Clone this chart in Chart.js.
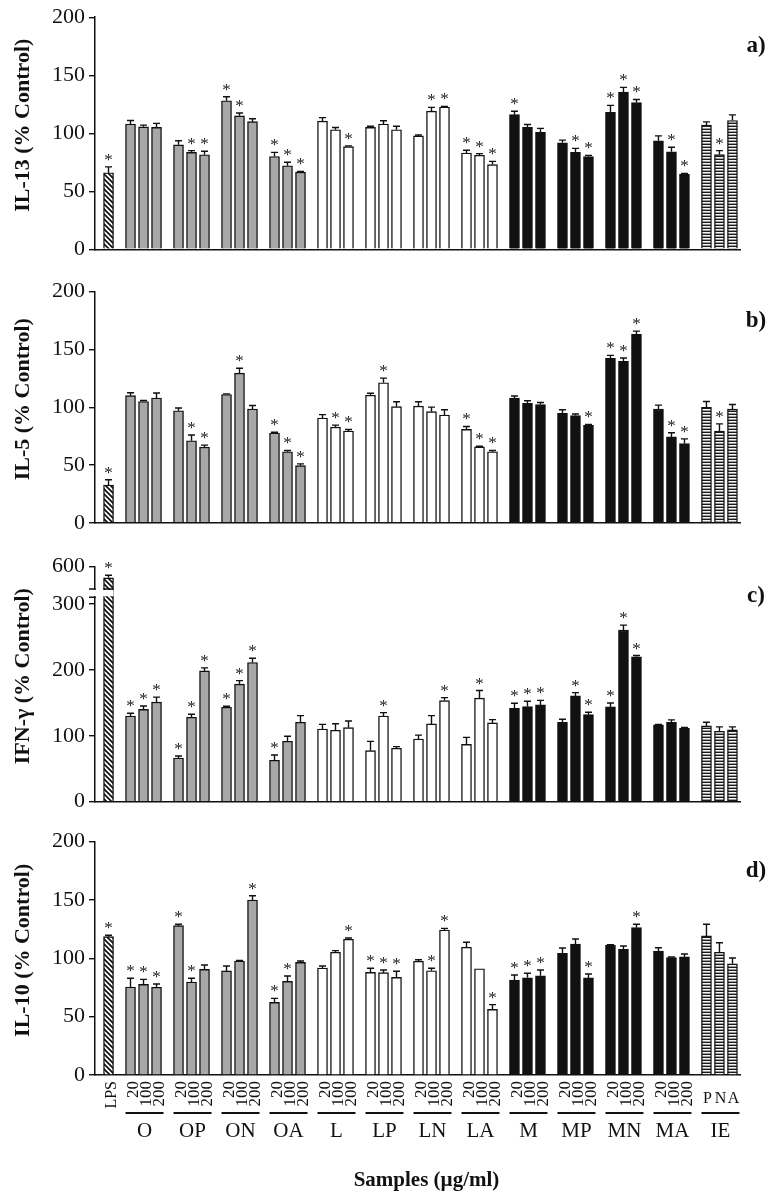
<!DOCTYPE html>
<html>
<head>
<meta charset="utf-8">
<script src="https://cdn.jsdelivr.net/npm/chart.js@4.4.1/dist/chart.umd.min.js"></script>
<style>
  html, body { margin: 0; padding: 0; background: #fff; }
  #wrap { position: relative; width: 781px; height: 1199px; overflow: hidden; }
  canvas { position: absolute; left: 0; }
</style>
</head>
<body>
<div id="wrap">
  <canvas id="il13" width="781" height="270" style="top:0px"></canvas>
  <canvas id="il5" width="781" height="270" style="top:270px"></canvas>
  <canvas id="ifng" width="781" height="275" style="top:545px"></canvas>
  <canvas id="il10" width="781" height="379" style="top:820px"></canvas>
</div>
<script>
const groups = ['O', 'OP', 'ON', 'OA', 'L', 'LP', 'LN', 'LA', 'M', 'MP', 'MN', 'MA', 'IE'];
const doses = ['20', '100', '200'];
const ieDoses = ['P', 'N', 'A'];
const ifnTicks = [0, 100, 200, 300, 600];

// order: LPS, then the three doses of each group (P / N / A for IE)
const il13 = [66, 108, 105.5, 105, 90, 83.5, 81.5, 128, 115, 110, 80, 72, 66.5,
  110.5, 103, 88.5, 105, 108, 103, 97.7, 119, 122.6, 83, 81, 73,
  116, 105, 100.8, 91.8, 83.5, 80, 118, 135.5, 126.5, 93.5, 84, 64.6, 107, 81.6, 111];
const il13Err = [5, 3, 1.5, 3.5, 3.5, 1.5, 3, 3.5, 2.5, 2.5, 3.5, 3, 0.6,
  3, 2, 0.6, 1, 2.8, 3, 0.8, 3.3, 0.6, 2.3, 1.4, 2.8,
  3, 2.5, 3.4, 2.3, 3.5, 0.9, 6, 4, 2.6, 4.2, 4, 0.8, 2.8, 3.4, 4.8];
const il13Sig = [1, 0, 0, 0, 0, 1, 1, 1, 1, 0, 1, 1, 1,
  0, 0, 1, 0, 0, 0, 0, 1, 1, 1, 1, 1,
  1, 0, 0, 0, 1, 1, 1, 1, 1, 0, 1, 1, 0, 1, 0];

const il5 = [32.7, 110, 105, 108, 97, 71, 65.5, 111, 129.5, 98.5, 77.7, 61.5, 49.5,
  90.7, 82.8, 79.4, 110.4, 121.2, 100.5, 101, 96.2, 93.3, 80.8, 65.7, 61.5,
  108, 103.3, 102.4, 94.8, 92.8, 84.3, 142.3, 139.7, 163, 98.4, 74.3, 68.6, 99.9, 79.4, 98.4];
const il5Err = [4.6, 2.5, 0.8, 4.3, 2.3, 5, 1.7, 0.6, 4.3, 3, 0.6, 1.1, 1.5,
  2.9, 1.7, 1.4, 1.7, 4, 4.2, 3.7, 3.9, 4.6, 2.6, 0.6, 1.1,
  1.8, 2.3, 1.7, 3.1, 1.4, 0.8, 2.6, 2.9, 2.9, 3.4, 3.6, 4, 5.1, 6.2, 4];
const il5Sig = [1, 0, 0, 0, 0, 1, 1, 0, 1, 0, 1, 1, 1,
  0, 1, 1, 0, 1, 0, 0, 0, 0, 1, 1, 1,
  0, 0, 0, 0, 0, 1, 1, 1, 1, 0, 1, 1, 0, 1, 0];

const ifng = [550, 130, 140, 151, 66.3, 128, 198.3, 143.2, 178.2, 211, 62.8, 91.7, 120.5,
  110.3, 108.3, 112.3, 77.4, 130, 81, 95, 118, 153.3, 87, 157, 119.4,
  141.7, 144.2, 146.7, 120.5, 160.4, 132, 143.7, 260.2, 219.6, 116.5, 120.5, 111.4, 114.9, 106.8, 108.8];
const ifngErr = [12, 4, 5, 7.6, 3, 4.6, 4.6, 1.6, 5.4, 6.6, 8, 7.5, 10,
  7, 10, 10, 14, 5, 2.5, 6, 12.5, 4.5, 10.6, 11.5, 5,
  7.5, 8, 7, 4.5, 5, 3.7, 6, 7.5, 2, 0.5, 3.5, 1, 5.6, 6.6, 4.6];
const ifngSig = [1, 1, 1, 1, 1, 1, 1, 1, 1, 1, 1, 0, 0,
  0, 0, 0, 0, 1, 0, 0, 0, 1, 0, 1, 0,
  1, 1, 1, 0, 1, 1, 1, 1, 1, 0, 0, 0, 0, 0, 0];

const il10 = [118.6, 75.4, 77.7, 75.2, 128, 79.7, 90.6, 89.2, 97.7, 150, 62.3, 80.3, 96.6,
  91.7, 105.2, 116.4, 88, 87.7, 83.7, 97.5, 89.4, 124.3, 109.5, 91.1, 56.3,
  81.4, 83.4, 85.1, 104.3, 112.3, 83.2, 111.4, 107.8, 126.3, 106.3, 100.6, 101.2, 119.2, 105.2, 95.4];
const il10Err = [1.2, 7.5, 4.3, 2.8, 1.2, 3.2, 3.7, 4.2, 0.5, 3.7, 3.4, 4.6, 1.1,
  1.7, 1.4, 1.1, 3.5, 2.3, 5.2, 1.3, 2.1, 1.4, 4.3, 0, 4,
  4.3, 3.8, 4.9, 4.6, 4.3, 3.4, 0.4, 2.8, 2.9, 2.8, 0.5, 2.5, 10, 8.2, 4.9];
const il10Sig = [1, 1, 1, 1, 1, 1, 0, 0, 0, 1, 1, 1, 0,
  0, 0, 1, 1, 1, 1, 0, 1, 1, 0, 0, 1,
  1, 1, 1, 0, 0, 1, 0, 0, 1, 0, 0, 0, 0, 0, 0];

// layout of the x axis, in units of one bar pitch
const LEAD = 22 / 13;
const GROUP_STEP = 48 / 13;
const X_MIN = -1.04;
const X_MAX = 48.58;
const xPos = [0];
groups.forEach((g, gi) => doses.forEach((d, di) => xPos.push(LEAD + gi * GROUP_STEP + di)));

const SERIF = '"Liberation Serif", "Times New Roman", serif';
const INK = '#111';

// y axis with a break between 310 and 500 (IFN-gamma panel)
const BREAK_LOW = 310, BREAK_HIGH = 500, BREAK_MAX = 600;
const LOW_SHARE = 0.87, HIGH_START = 0.905;

class BrokenLinearScale extends Chart.LinearScale {
  static id = 'brokenLinear';
  static defaults = Chart.LinearScale.defaults;
  buildTicks() {
    this.start = this.min;
    this.end = this.max;
    return ifnTicks.map(value => ({ value }));
  }
  toDecimal(v) {
    if (v <= BREAK_LOW) return v / BREAK_LOW * LOW_SHARE;
    if (v >= BREAK_HIGH) return HIGH_START + (v - BREAK_HIGH) / (BREAK_MAX - BREAK_HIGH) * (1 - HIGH_START);
    return LOW_SHARE + (v - BREAK_LOW) / (BREAK_HIGH - BREAK_LOW) * (HIGH_START - LOW_SHARE);
  }
  getPixelForValue(v) {
    return this.getPixelForDecimal(this.toDecimal(v));
  }
  getValueForPixel(p) {
    const d = this.getDecimalForPixel(p);
    if (d <= LOW_SHARE) return d / LOW_SHARE * BREAK_LOW;
    if (d >= HIGH_START) return BREAK_HIGH + (d - HIGH_START) / (1 - HIGH_START) * (BREAK_MAX - BREAK_HIGH);
    return BREAK_LOW + (d - LOW_SHARE) / (HIGH_START - LOW_SHARE) * (BREAK_HIGH - BREAK_LOW);
  }
}
Chart.register(BrokenLinearScale);

function pattern(w, h, paint) {
  const c = document.createElement('canvas');
  c.width = w;
  c.height = h;
  const g = c.getContext('2d');
  paint(g);
  return g.createPattern(c, 'repeat');
}

const hatch = pattern(5, 5, g => {
  g.fillStyle = '#fff';
  g.fillRect(0, 0, 5, 5);
  g.strokeStyle = '#111';
  g.lineWidth = 1.7;
  g.beginPath();
  [-5, 0, 5].forEach(o => { g.moveTo(o - 1, -1); g.lineTo(o + 6, 6); });
  g.stroke();
});

const stripes = pattern(2, 3, g => {
  g.fillStyle = '#1a1a1a'; g.fillRect(0, 0, 2, 1);
  g.fillStyle = '#f4f4f4'; g.fillRect(0, 1, 2, 1);
  g.fillStyle = '#9c9c9c'; g.fillRect(0, 2, 2, 1);
});

function barFill(i) {
  if (i === 0) return hatch;
  const g = Math.floor((i - 1) / 3);
  if (g < 4) return '#a8a8a8';
  if (g < 8) return '#ffffff';
  if (g < 12) return '#111111';
  return stripes;
}

function drawBreak(ctx, chartArea, y, lps) {
  const yHi = y.getPixelForValue(BREAK_HIGH);
  const yLo = y.getPixelForValue(BREAK_LOW);
  ctx.fillStyle = '#fff';
  ctx.fillRect(chartArea.left - 2, yHi + 1, lps.x + 7 - chartArea.left, yLo - yHi - 2);
  ctx.strokeStyle = INK;
  ctx.lineWidth = 1.4;
  ctx.beginPath();
  ctx.moveTo(chartArea.left - 6, yHi); ctx.lineTo(chartArea.left + 0.7, yHi);
  ctx.moveTo(chartArea.left - 6, yLo); ctx.lineTo(chartArea.left + 0.7, yLo);
  ctx.moveTo(lps.x - 5, yHi); ctx.lineTo(lps.x + 5, yHi);
  ctx.stroke();
}

function drawSampleLabels(ctx, chartArea, bars) {
  const base = chartArea.bottom;
  ctx.fillStyle = INK;
  ctx.strokeStyle = INK;
  const vertical = (text, x) => {
    ctx.save();
    ctx.translate(x + 3, base + 6);
    ctx.rotate(-Math.PI / 2);
    ctx.textAlign = 'right';
    ctx.textBaseline = 'middle';
    ctx.fillText(text, 0, 0);
    ctx.restore();
  };
  ctx.font = '16px ' + SERIF;
  vertical('LPS', bars[0].x);
  groups.forEach((g, gi) => {
    const b = [1, 2, 3].map(k => bars[1 + gi * 3 + k - 1]);
    if (g === 'IE') {
      ctx.font = '16px ' + SERIF;
      ctx.textAlign = 'center';
      ctx.textBaseline = 'alphabetic';
      ieDoses.forEach((d, di) => ctx.fillText(d, b[di].x + 1, base + 28));
    } else {
      ctx.font = '17px ' + SERIF;
      doses.forEach((d, di) => vertical(d, b[di].x));
    }
    ctx.lineWidth = 1.8;
    ctx.beginPath();
    ctx.moveTo(b[0].x - 5, base + 38);
    ctx.lineTo(b[2].x + 7, base + 38);
    ctx.stroke();
    ctx.font = '21px ' + SERIF;
    ctx.textAlign = 'center';
    ctx.textBaseline = 'alphabetic';
    ctx.fillText(g, b[1].x + 1, base + 62);
  });
  ctx.font = 'bold 21px ' + SERIF;
  ctx.textAlign = 'center';
  ctx.fillText('Samples (\u00b5g/ml)', (chartArea.left + chartArea.right) / 2 + 9, base + 111);
}

function decorations(panel) {
  return {
    id: 'decorations',
    afterDraw(chart) {
      const { ctx, chartArea, scales: { y } } = chart;
      const bars = chart.getDatasetMeta(0).data;
      ctx.save();
      if (panel.broken) drawBreak(ctx, chartArea, y, bars[0]);

      // error bars, upper half only
      ctx.strokeStyle = INK;
      ctx.lineWidth = 1.4;
      bars.forEach((bar, i) => {
        const err = panel.err[i];
        if (!err) return;
        const top = y.getPixelForValue(panel.values[i] + err);
        ctx.beginPath();
        ctx.moveTo(bar.x, bar.y);
        ctx.lineTo(bar.x, top);
        ctx.moveTo(bar.x - 3.5, top);
        ctx.lineTo(bar.x + 3.5, top);
        ctx.stroke();
      });

      // significance marks
      ctx.fillStyle = '#222';
      ctx.font = '17px ' + SERIF;
      ctx.textAlign = 'center';
      ctx.textBaseline = 'alphabetic';
      bars.forEach((bar, i) => {
        if (!panel.sig[i]) return;
        const top = y.getPixelForValue(panel.values[i] + panel.err[i]);
        ctx.fillText('*', bar.x, top - 2);
      });

      // axis title and panel letter
      ctx.fillStyle = INK;
      ctx.save();
      ctx.translate(23, (chartArea.top + chartArea.bottom) / 2 - 8);
      ctx.rotate(-Math.PI / 2);
      ctx.font = 'bold 22px ' + SERIF;
      ctx.textAlign = 'center';
      ctx.textBaseline = 'middle';
      ctx.fillText(panel.title, 0, 0);
      ctx.restore();
      ctx.font = 'bold 23px ' + SERIF;
      ctx.textAlign = 'center';
      ctx.textBaseline = 'middle';
      ctx.fillText(panel.letter, 756, chartArea.top + 29);

      if (panel.samples) drawSampleLabels(ctx, chartArea, bars);
      ctx.restore();
    },
  };
}

function makeChart(panel) {
  return new Chart(document.getElementById(panel.id), {
    type: 'bar',
    data: {
      datasets: [{
        data: panel.values.map((v, i) => ({ x: xPos[i], y: v })),
        backgroundColor: panel.values.map((v, i) => barFill(i)),
        borderColor: INK,
        borderWidth: 1.4,
        barThickness: 10,
      }],
    },
    options: {
      responsive: false,
      animation: false,
      devicePixelRatio: 1,
      layout: { padding: { top: panel.top, right: 41, bottom: 0, left: 0 } },
      plugins: { legend: { display: false }, tooltip: { enabled: false } },
      scales: {
        x: {
          type: 'linear',
          min: X_MIN,
          max: X_MAX,
          offset: false,
          grid: { display: false },
          ticks: { display: false },
          border: { display: true, color: INK, width: 1.5 },
          afterFit: s => { s.height = panel.below; },
        },
        y: {
          type: panel.broken ? 'brokenLinear' : 'linear',
          min: 0,
          max: panel.broken ? BREAK_MAX : 200,
          ticks: {
            stepSize: 50,
            autoSkip: false,
            padding: 4,
            color: INK,
            font: { family: SERIF, size: 22 },
          },
          grid: { display: true, drawOnChartArea: false, drawTicks: true, tickLength: 6, color: INK, lineWidth: 1.4 },
          border: { display: true, color: INK, width: 1.5 },
          afterFit: s => { s.width = 95; },
        },
      },
    },
    plugins: [decorations(panel)],
  });
}

makeChart({ id: 'il13', values: il13, err: il13Err, sig: il13Sig, title: 'IL-13 (% Control)', letter: 'a)', top: 14, below: 20.7 });
makeChart({ id: 'il5', values: il5, err: il5Err, sig: il5Sig, title: 'IL-5 (% Control)', letter: 'b)', top: 21.7, below: 14 });
makeChart({ id: 'ifng', values: ifng, err: ifngErr, sig: ifngSig, title: 'IFN-\u03b3 (% Control)', letter: 'c)', top: 21.7, below: 18.3, broken: true });
makeChart({ id: 'il10', values: il10, err: il10Err, sig: il10Sig, title: 'IL-10 (% Control)', letter: 'd)', top: 21.7, below: 124, samples: true });
</script>
</body>
</html>
